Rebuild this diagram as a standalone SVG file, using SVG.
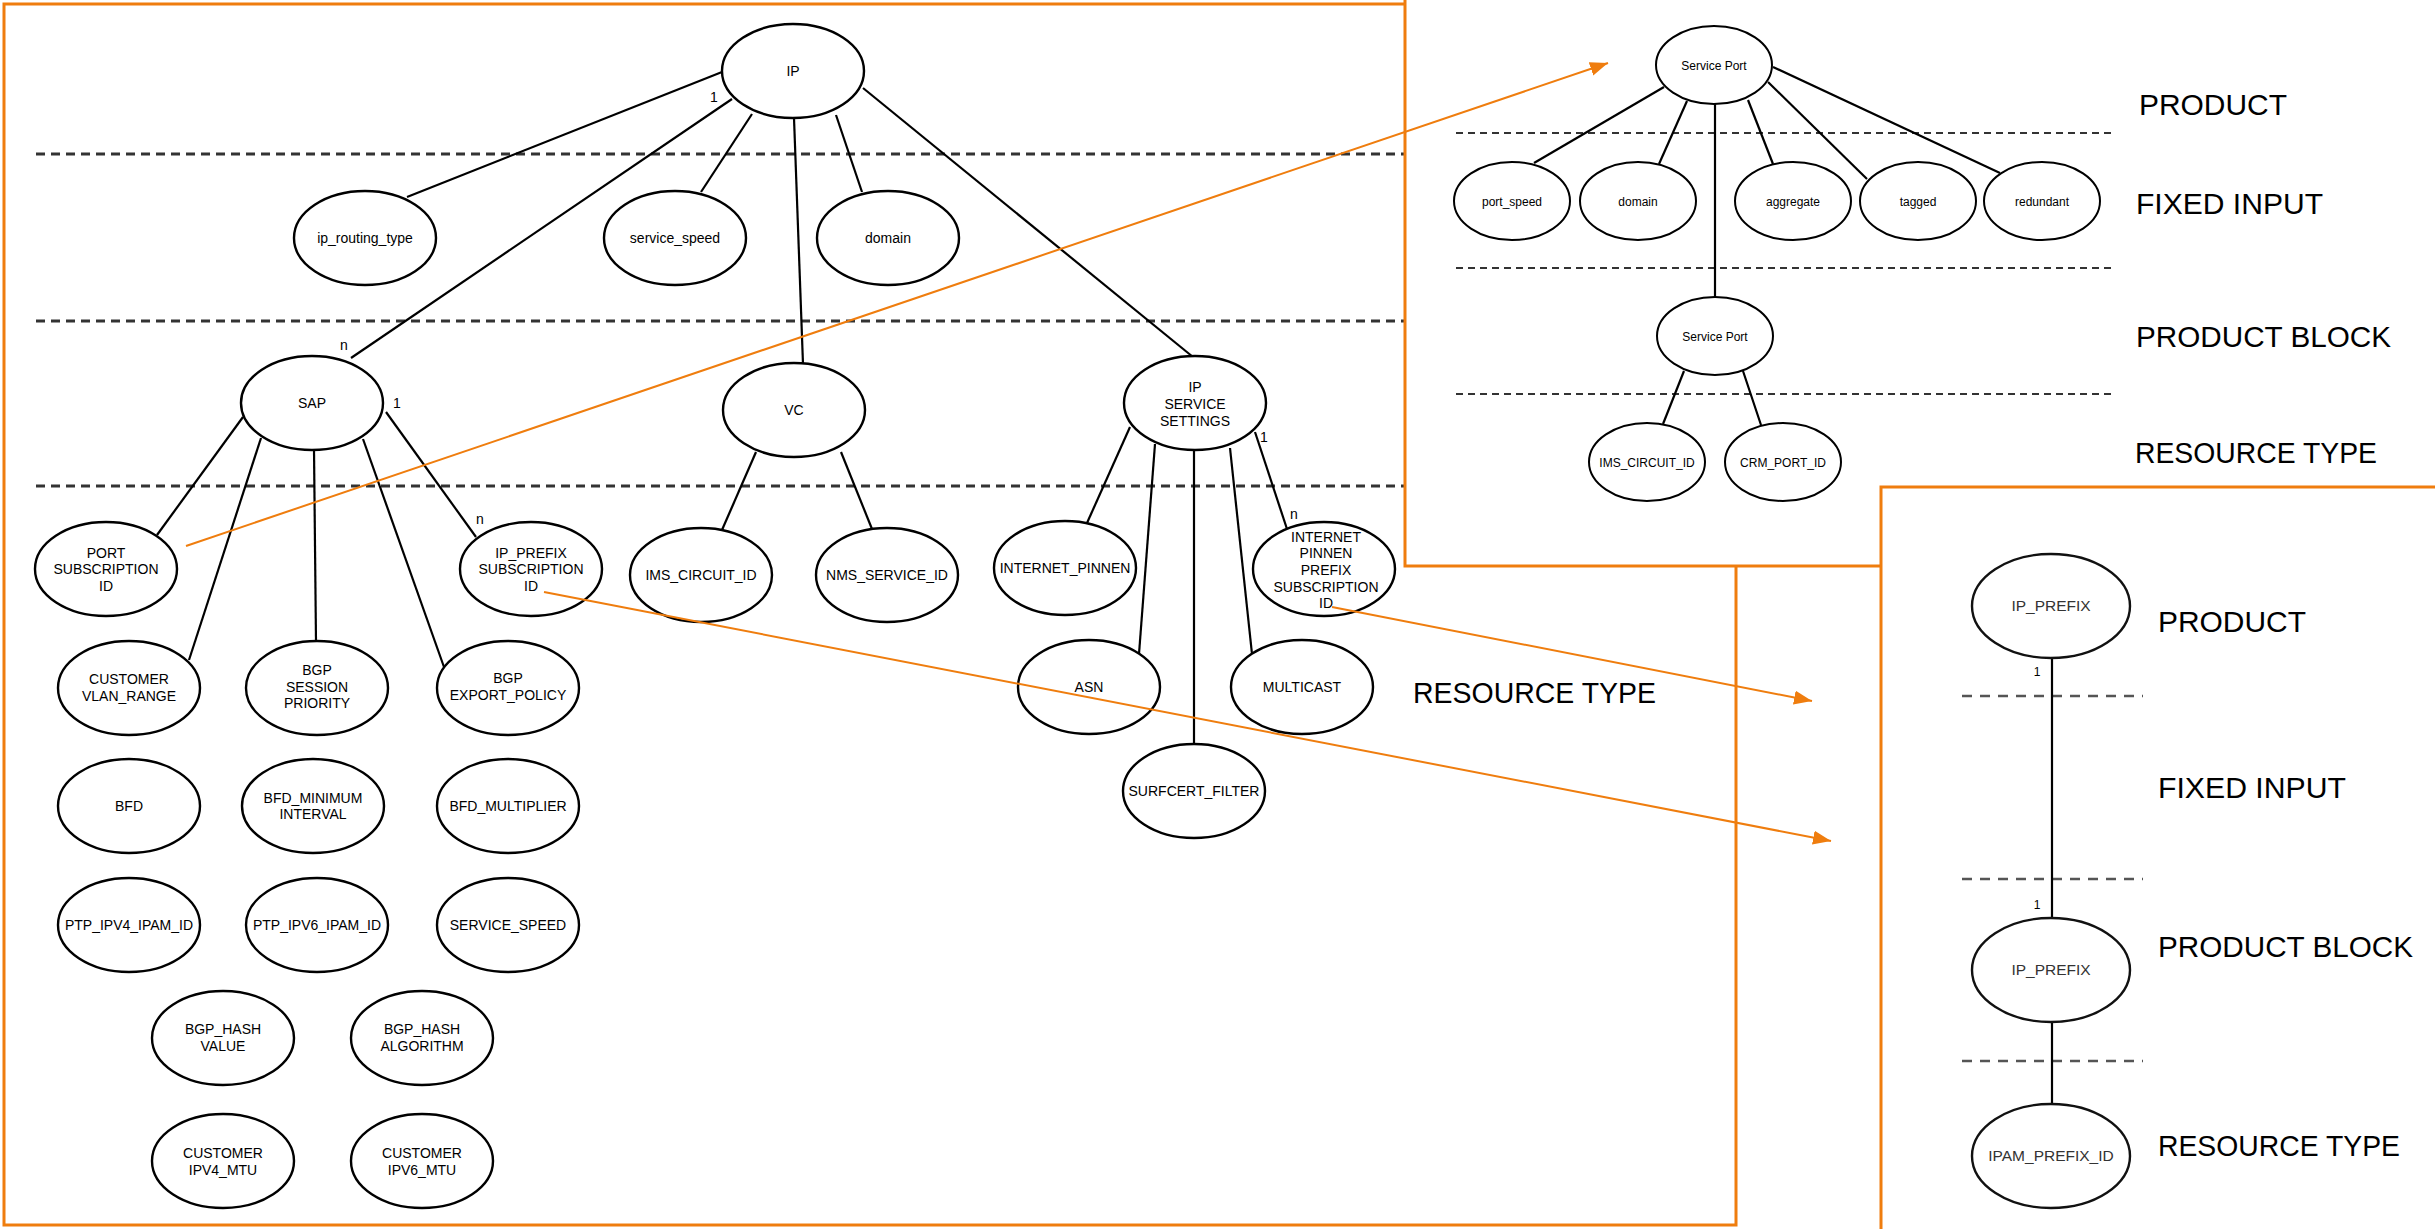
<svg xmlns="http://www.w3.org/2000/svg" width="2435" height="1229" viewBox="0 0 2435 1229">
<style>
.box{fill:#fff;stroke:#EF7D0E;stroke-width:3}
.e{stroke:#000;stroke-width:2.2;fill:none}
.n{fill:#fff;stroke:#000;stroke-width:2.4}
.ns{fill:#fff;stroke:#000;stroke-width:2}
.nl{fill:#fff;stroke:#111;stroke-width:2.4}
.d{stroke:#333;stroke-width:3;stroke-dasharray:9 6}
.ds{stroke:#333;stroke-width:2.2;stroke-dasharray:7 5}
.dl{stroke:#555;stroke-width:2.5;stroke-dasharray:10 8}
.t{font-family:"Liberation Sans",Arial,sans-serif;font-size:14px;fill:#000;text-anchor:middle}
.ts{font-family:"Liberation Sans",Arial,sans-serif;font-size:12px;fill:#000;text-anchor:middle}
.tl{font-family:"Liberation Sans",Arial,sans-serif;font-size:15.5px;fill:#333;text-anchor:middle}
.big{font-family:"Liberation Sans",Arial,sans-serif;font-size:30px;fill:#000}
.arr{stroke:#EF7D0E;stroke-width:2;fill:none}
</style>
<defs>
<marker id="ah" markerUnits="userSpaceOnUse" markerWidth="20" markerHeight="16" refX="18" refY="7" orient="auto">
<path d="M0,0 L18,7 L0,14 z" fill="#EF7D0E"/>
</marker>
</defs>
<rect width="2435" height="1229" fill="#fff"/>
<rect class="box" x="4" y="4" width="1732" height="1221"/>

<g id="main-dashes">
<line class="d" x1="36" y1="154" x2="1405" y2="154"/>
<line class="d" x1="36" y1="321" x2="1405" y2="321"/>
<line class="d" x1="36" y1="486" x2="1405" y2="486"/>
</g>

<g id="connectors">
<line class="e" x1="722" y1="72" x2="407" y2="197"/>
<line class="e" x1="732" y1="99" x2="351" y2="358"/>
<line class="e" x1="752" y1="114" x2="701" y2="192"/>
<line class="e" x1="794" y1="118" x2="803" y2="364"/>
<line class="e" x1="836" y1="115" x2="862" y2="192"/>
<line class="e" x1="863" y1="88" x2="1193" y2="357"/>
<line class="e" x1="243" y1="417" x2="157" y2="535"/>
<line class="e" x1="261" y1="438" x2="189" y2="660"/>
<line class="e" x1="314" y1="449" x2="316" y2="642"/>
<line class="e" x1="363" y1="439" x2="444" y2="667"/>
<line class="e" x1="386" y1="412" x2="476" y2="537"/>
<line class="e" x1="756" y1="452" x2="722" y2="530"/>
<line class="e" x1="841" y1="452" x2="872" y2="529"/>
<line class="e" x1="1130" y1="427" x2="1087" y2="523"/>
<line class="e" x1="1155" y1="444" x2="1139" y2="654"/>
<line class="e" x1="1194" y1="449" x2="1194" y2="745"/>
<line class="e" x1="1230" y1="448" x2="1252" y2="654"/>
<line class="e" x1="1255" y1="432" x2="1287" y2="529"/>
</g>

<g id="main-nodes">
<g id="n-ip"><ellipse class="n" cx="793" cy="71" rx="71" ry="47"/><text class="t" x="793" y="76">IP</text></g>
<g id="n-ip_routing_type"><ellipse class="n" cx="365" cy="238" rx="71" ry="47"/><text class="t" x="365" y="243">ip_routing_type</text></g>
<g id="n-service_speed"><ellipse class="n" cx="675" cy="238" rx="71" ry="47"/><text class="t" x="675" y="243">service_speed</text></g>
<g id="n-domain"><ellipse class="n" cx="888" cy="238" rx="71" ry="47"/><text class="t" x="888" y="243">domain</text></g>
<g id="n-sap"><ellipse class="n" cx="312" cy="403" rx="71" ry="47"/><text class="t" x="312" y="408">SAP</text></g>
<g id="n-vc"><ellipse class="n" cx="794" cy="410" rx="71" ry="47"/><text class="t" x="794" y="415">VC</text></g>
<g id="n-ipss"><ellipse class="n" cx="1195" cy="403" rx="71" ry="47"/><text class="t" x="1195" y="392">IP</text><text class="t" x="1195" y="409">SERVICE</text><text class="t" x="1195" y="426">SETTINGS</text></g>
<g id="n-port-sub"><ellipse class="n" cx="106" cy="569" rx="71" ry="47"/><text class="t" x="106" y="558">PORT</text><text class="t" x="106" y="574">SUBSCRIPTION</text><text class="t" x="106" y="591">ID</text></g>
<g id="n-ipprefix-sub"><ellipse class="n" cx="531" cy="569" rx="71" ry="47"/><text class="t" x="531" y="558">IP_PREFIX</text><text class="t" x="531" y="574">SUBSCRIPTION</text><text class="t" x="531" y="591">ID</text></g>
<g id="n-ims"><ellipse class="n" cx="701" cy="575" rx="71" ry="47"/><text class="t" x="701" y="580">IMS_CIRCUIT_ID</text></g>
<g id="n-nms"><ellipse class="n" cx="887" cy="575" rx="71" ry="47"/><text class="t" x="887" y="580">NMS_SERVICE_ID</text></g>
<g id="n-ipinnen"><ellipse class="n" cx="1065" cy="568" rx="71" ry="47"/><text class="t" x="1065" y="573">INTERNET_PINNEN</text></g>
<g id="n-ippsid"><ellipse class="n" cx="1324" cy="569" rx="71" ry="47"/><text class="t" x="1326" y="542">INTERNET</text><text class="t" x="1326" y="558">PINNEN</text><text class="t" x="1326" y="575">PREFIX</text><text class="t" x="1326" y="592">SUBSCRIPTION</text><text class="t" x="1326" y="608">ID</text></g>
<g id="n-cvlan"><ellipse class="n" cx="129" cy="688" rx="71" ry="47"/><text class="t" x="129" y="684">CUSTOMER</text><text class="t" x="129" y="701">VLAN_RANGE</text></g>
<g id="n-bgpsess"><ellipse class="n" cx="317" cy="688" rx="71" ry="47"/><text class="t" x="317" y="675">BGP</text><text class="t" x="317" y="692">SESSION</text><text class="t" x="317" y="708">PRIORITY</text></g>
<g id="n-bgpexp"><ellipse class="n" cx="508" cy="688" rx="71" ry="47"/><text class="t" x="508" y="683">BGP</text><text class="t" x="508" y="700">EXPORT_POLICY</text></g>
<g id="n-bfd"><ellipse class="n" cx="129" cy="806" rx="71" ry="47"/><text class="t" x="129" y="811">BFD</text></g>
<g id="n-bfdmin"><ellipse class="n" cx="313" cy="806" rx="71" ry="47"/><text class="t" x="313" y="803">BFD_MINIMUM</text><text class="t" x="313" y="819">INTERVAL</text></g>
<g id="n-bfdmult"><ellipse class="n" cx="508" cy="806" rx="71" ry="47"/><text class="t" x="508" y="811">BFD_MULTIPLIER</text></g>
<g id="n-ptp4"><ellipse class="n" cx="129" cy="925" rx="71" ry="47"/><text class="t" x="129" y="930">PTP_IPV4_IPAM_ID</text></g>
<g id="n-ptp6"><ellipse class="n" cx="317" cy="925" rx="71" ry="47"/><text class="t" x="317" y="930">PTP_IPV6_IPAM_ID</text></g>
<g id="n-sspeed"><ellipse class="n" cx="508" cy="925" rx="71" ry="47"/><text class="t" x="508" y="930">SERVICE_SPEED</text></g>
<g id="n-hashval"><ellipse class="n" cx="223" cy="1038" rx="71" ry="47"/><text class="t" x="223" y="1034">BGP_HASH</text><text class="t" x="223" y="1051">VALUE</text></g>
<g id="n-hashalg"><ellipse class="n" cx="422" cy="1038" rx="71" ry="47"/><text class="t" x="422" y="1034">BGP_HASH</text><text class="t" x="422" y="1051">ALGORITHM</text></g>
<g id="n-mtu4"><ellipse class="n" cx="223" cy="1161" rx="71" ry="47"/><text class="t" x="223" y="1158">CUSTOMER</text><text class="t" x="223" y="1175">IPV4_MTU</text></g>
<g id="n-mtu6"><ellipse class="n" cx="422" cy="1161" rx="71" ry="47"/><text class="t" x="422" y="1158">CUSTOMER</text><text class="t" x="422" y="1175">IPV6_MTU</text></g>
<g id="n-asn"><ellipse class="n" cx="1089" cy="687" rx="71" ry="47"/><text class="t" x="1089" y="692">ASN</text></g>
<g id="n-multicast"><ellipse class="n" cx="1302" cy="687" rx="71" ry="47"/><text class="t" x="1302" y="692">MULTICAST</text></g>
<g id="n-surfcert"><ellipse class="n" cx="1194" cy="791" rx="71" ry="47"/><text class="t" x="1194" y="796">SURFCERT_FILTER</text></g>
</g>

<g id="main-labels">
<text class="t" x="714" y="102">1</text>
<text class="t" x="344" y="350">n</text>
<text class="t" x="397" y="408">1</text>
<text class="t" x="1264" y="442">1</text>
<text class="t" x="480" y="524">n</text>
<text class="t" x="1294" y="519">n</text>
<text class="big" x="1413" y="703" textLength="243" lengthAdjust="spacingAndGlyphs">RESOURCE TYPE</text>
</g>

<g id="service-port-panel">
<rect class="box" x="1405" y="-10" width="1100" height="576"/>
<line class="ds" x1="1456" y1="133" x2="2111" y2="133"/>
<line class="ds" x1="1456" y1="268" x2="2111" y2="268"/>
<line class="ds" x1="1456" y1="394" x2="2111" y2="394"/>
<g id="sp-connectors">
<line class="e" stroke-width="1.8" x1="1664" y1="87" x2="1534" y2="163"/>
<line class="e" stroke-width="1.8" x1="1687" y1="101" x2="1659" y2="164"/>
<line class="e" stroke-width="1.8" x1="1715" y1="104" x2="1715" y2="298"/>
<line class="e" stroke-width="1.8" x1="1748" y1="100" x2="1773" y2="164"/>
<line class="e" stroke-width="1.8" x1="1768" y1="82" x2="1867" y2="179"/>
<line class="e" stroke-width="1.8" x1="1773" y1="67" x2="2000" y2="173"/>
<line class="e" stroke-width="1.8" x1="1684" y1="371" x2="1663" y2="424"/>
<line class="e" stroke-width="1.8" x1="1743" y1="371" x2="1761" y2="425"/>
</g>
<g id="sp-top"><ellipse class="ns" cx="1714" cy="65" rx="58" ry="39"/><text class="ts" x="1714" y="70">Service Port</text></g>
<g id="sp-port_speed"><ellipse class="ns" cx="1512" cy="201" rx="58" ry="39"/><text class="ts" x="1512" y="206">port_speed</text></g>
<g id="sp-domain"><ellipse class="ns" cx="1638" cy="201" rx="58" ry="39"/><text class="ts" x="1638" y="206">domain</text></g>
<g id="sp-aggregate"><ellipse class="ns" cx="1793" cy="201" rx="58" ry="39"/><text class="ts" x="1793" y="206">aggregate</text></g>
<g id="sp-tagged"><ellipse class="ns" cx="1918" cy="201" rx="58" ry="39"/><text class="ts" x="1918" y="206">tagged</text></g>
<g id="sp-redundant"><ellipse class="ns" cx="2042" cy="201" rx="58" ry="39"/><text class="ts" x="2042" y="206">redundant</text></g>
<g id="sp-block"><ellipse class="ns" cx="1715" cy="336" rx="58" ry="39"/><text class="ts" x="1715" y="341">Service Port</text></g>
<g id="sp-ims"><ellipse class="ns" cx="1647" cy="462" rx="58" ry="39"/><text class="ts" x="1647" y="467">IMS_CIRCUIT_ID</text></g>
<g id="sp-crm"><ellipse class="ns" cx="1783" cy="462" rx="58" ry="39"/><text class="ts" x="1783" y="467">CRM_PORT_ID</text></g>
<text class="big" x="2139" y="115" textLength="148" lengthAdjust="spacingAndGlyphs">PRODUCT</text>
<text class="big" x="2136" y="214" textLength="187" lengthAdjust="spacingAndGlyphs">FIXED INPUT</text>
<text class="big" x="2136" y="347" textLength="255" lengthAdjust="spacingAndGlyphs">PRODUCT BLOCK</text>
<text class="big" x="2135" y="463" textLength="242" lengthAdjust="spacingAndGlyphs">RESOURCE TYPE</text>
</g>

<g id="ip-prefix-panel">
<rect class="box" x="1881" y="487" width="600" height="800"/>
<line class="dl" x1="1962" y1="696" x2="2143" y2="696"/>
<line class="dl" x1="1962" y1="879" x2="2143" y2="879"/>
<line class="dl" x1="1962" y1="1061" x2="2143" y2="1061"/>
<g id="ipp-connectors">
<line class="e" x1="2052" y1="658" x2="2052" y2="919"/>
<line class="e" x1="2052" y1="1022" x2="2052" y2="1104"/>
</g>
<text class="ts" x="2037" y="676">1</text>
<text class="ts" x="2037" y="909">1</text>
<g id="ipp-product"><ellipse class="nl" cx="2051" cy="606" rx="79" ry="52"/><text class="tl" x="2051" y="611">IP_PREFIX</text></g>
<g id="ipp-block"><ellipse class="nl" cx="2051" cy="970" rx="79" ry="52"/><text class="tl" x="2051" y="975">IP_PREFIX</text></g>
<g id="ipp-ipam"><ellipse class="nl" cx="2051" cy="1156" rx="79" ry="52"/><text class="tl" x="2051" y="1161">IPAM_PREFIX_ID</text></g>
<text class="big" x="2158" y="632" textLength="148" lengthAdjust="spacingAndGlyphs">PRODUCT</text>
<text class="big" x="2158" y="798" textLength="188" lengthAdjust="spacingAndGlyphs">FIXED INPUT</text>
<text class="big" x="2158" y="957" textLength="255" lengthAdjust="spacingAndGlyphs">PRODUCT BLOCK</text>
<text class="big" x="2158" y="1156" textLength="242" lengthAdjust="spacingAndGlyphs">RESOURCE TYPE</text>
</g>

<g id="mapping-arrows">
<line class="arr" x1="186" y1="546" x2="1608" y2="63" marker-end="url(#ah)"/>
<line class="arr" x1="544" y1="592" x2="1831" y2="841" marker-end="url(#ah)"/>
<line class="arr" x1="1332" y1="607" x2="1812" y2="701" marker-end="url(#ah)"/>
</g>
</svg>
